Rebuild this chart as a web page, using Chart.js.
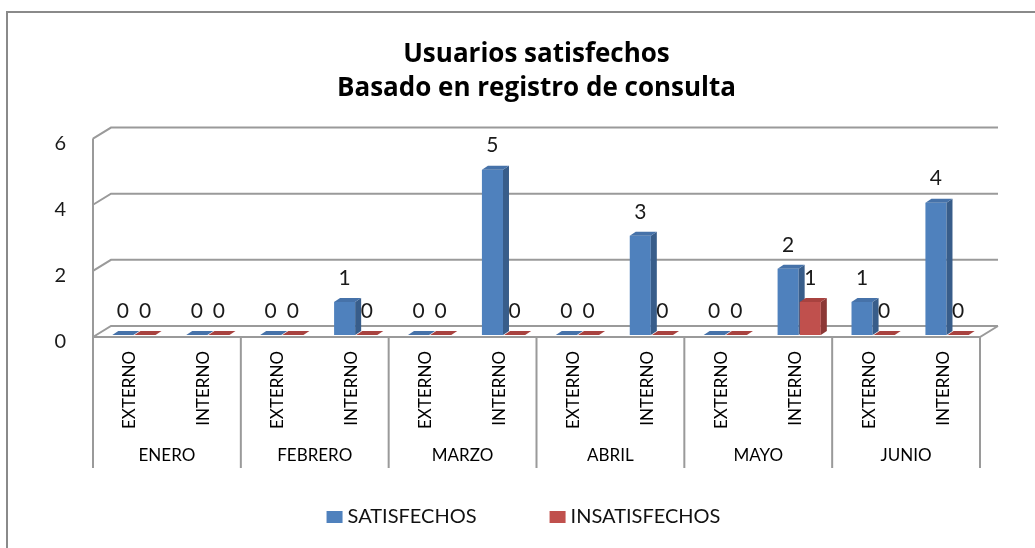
<!DOCTYPE html>
<html>
<head>
<meta charset="utf-8">
<script src="https://cdn.jsdelivr.net/npm/chart.js@4.4.1/dist/chart.umd.min.js"></script>
<style>
    html, body { margin: 0; padding: 0; background: #fff; }
    #wrap { width: 1035px; height: 548px; }
</style>
</head>
<body>
<div id="wrap"><canvas id="myChart"></canvas></div>
<script>
// data
const months = ['ENERO', 'FEBRERO', 'MARZO', 'ABRIL', 'MAYO', 'JUNIO'];
const origins = ['EXTERNO', 'INTERNO'];
const satisfechos = [0, 0, 0, 1, 0, 5, 0, 3, 0, 2, 1, 4];
const insatisfechos = [0, 0, 0, 0, 0, 0, 0, 0, 0, 1, 0, 0];
const yTicks = [0, 2, 4, 6];

const labels = months.flatMap(() => origins);

// fake 3d look (excel 2007 style)
const wall = { dx: 18, dy: -11 };
const bar3d = { dx: 6, dy: -4, shiftX: 4, shiftY: -2 };
const faces = [
    { side: '#385d8a', top: '#4672a9' },
    { side: '#8c3836', top: '#a8423f' }
];
const lineGray = '#9a9a9a';
const fontName = 'Lato, "Open Sans", sans-serif';

const threeD = {
    id: 'threeD',
    beforeDraw(chart) {
        const ctx = chart.ctx;
        // outer frame
        ctx.save();
        ctx.strokeStyle = '#8a8a8a';
        ctx.lineWidth = 2;
        ctx.beginPath();
        ctx.moveTo(7, chart.height);
        ctx.lineTo(7, 12);
        ctx.lineTo(chart.width, 12);
        ctx.stroke();
        ctx.restore();
    },
    beforeDatasetsDraw(chart) {
        const ctx = chart.ctx;
        const x = chart.scales.x, y = chart.scales.y, x2 = chart.scales.x2;
        const left = chart.chartArea.left, right = chart.chartArea.right;
        ctx.save();
        ctx.strokeStyle = lineGray;
        ctx.lineWidth = 2;
        ctx.beginPath();
        yTicks.forEach((v) => {
            const yp = y.getPixelForValue(v);
            ctx.moveTo(left, yp);
            ctx.lineTo(left + wall.dx, yp + wall.dy);
            ctx.lineTo(right + wall.dx, yp + wall.dy);
        });
        // left wall edge
        ctx.moveTo(left, y.getPixelForValue(yTicks[yTicks.length - 1]));
        ctx.lineTo(left, y.getPixelForValue(0));
        // floor front edge
        const y0 = y.getPixelForValue(0);
        ctx.moveTo(left, y0);
        ctx.lineTo(right, y0);
        ctx.lineTo(right + wall.dx, y0 + wall.dy);
        // month separators
        const half = (x.getPixelForValue(1) - x.getPixelForValue(0)) / 2;
        for (let k = 0; k <= months.length; k++) {
            const xp = x.getPixelForValue(k * origins.length) - half;
            ctx.moveTo(xp, y0);
            ctx.lineTo(xp, x2.bottom);
        }
        ctx.stroke();
        ctx.restore();
    },
    // bars are drawn below, in dataset order, so the red ones sit in front
    beforeDatasetDraw() {
        return false;
    },
    afterDatasetsDraw(chart) {
        const ctx = chart.ctx;
        ctx.save();
        ctx.translate(bar3d.shiftX, bar3d.shiftY);
        chart.data.datasets.forEach((ds, i) => {
            const f = faces[i];
            chart.getDatasetMeta(i).data.forEach((b) => {
                b.draw(ctx);
                const p = b.getProps(['x', 'y', 'base', 'width']);
                const l = p.x - p.width / 2, r = p.x + p.width / 2;
                const top = Math.min(p.y, p.base), bot = Math.max(p.y, p.base);
                ctx.fillStyle = f.side;
                ctx.beginPath();
                ctx.moveTo(r, top);
                ctx.lineTo(r + bar3d.dx, top + bar3d.dy);
                ctx.lineTo(r + bar3d.dx, bot + bar3d.dy);
                ctx.lineTo(r, bot);
                ctx.closePath();
                ctx.fill();
                ctx.fillStyle = f.top;
                ctx.beginPath();
                ctx.moveTo(l, top);
                ctx.lineTo(l + bar3d.dx, top + bar3d.dy);
                ctx.lineTo(r + bar3d.dx, top + bar3d.dy);
                ctx.lineTo(r, top);
                ctx.closePath();
                ctx.fill();
            });
        });
        // value labels
        ctx.fillStyle = '#1a1a1a';
        ctx.font = '21px ' + fontName;
        ctx.textAlign = 'center';
        ctx.textBaseline = 'middle';
        chart.data.datasets.forEach((ds, i) => {
            chart.getDatasetMeta(i).data.forEach((b, j) => {
                const p = b.getProps(['x', 'y', 'base']);
                ctx.fillText(String(ds.data[j]), p.x, Math.min(p.y, p.base) - 24);
            });
        });
        ctx.restore();
    },
    afterDraw(chart) {
        // legend at the bottom
        const ctx = chart.ctx;
        ctx.save();
        ctx.font = '20px ' + fontName;
        ctx.textBaseline = 'middle';
        ctx.textAlign = 'left';
        const box = 16, gap = 5, spacing = 73;
        const items = chart.data.datasets.map((ds) => ({ text: ds.label, color: ds.backgroundColor }));
        let total = 0;
        items.forEach((it, i) => {
            total += box + gap + ctx.measureText(it.text).width + (i > 0 ? spacing : 0);
        });
        let cx = chart.width / 2 + 6 - total / 2;
        const cy = 517;
        items.forEach((it) => {
            ctx.fillStyle = it.color;
            ctx.fillRect(cx, cy - 6, box, 12);
            cx += box + gap;
            ctx.fillStyle = '#111';
            ctx.fillText(it.text, cx, cy);
            cx += ctx.measureText(it.text).width + spacing;
        });
        ctx.restore();
    }
};

const ctx = document.getElementById('myChart').getContext('2d');
const myChart = new Chart(ctx, {
    type: 'bar',
    data: {
        labels: labels,
        datasets: [{
            label: 'SATISFECHOS',
            data: satisfechos,
            backgroundColor: '#4f81bd'
        }, {
            label: 'INSATISFECHOS',
            data: insatisfechos,
            backgroundColor: '#c0504d'
        }]
    },
    options: {
        responsive: true,
        maintainAspectRatio: false,
        animation: false,
        categoryPercentage: 0.6,
        barPercentage: 0.95,
        layout: { padding: { top: 0, left: 20, right: 55, bottom: 80 } },
        plugins: {
            legend: { display: false },
            tooltip: { enabled: false },
            title: {
                display: true,
                fullSize: false,
                text: ['Usuarios satisfechos', 'Basado en registro de consulta'],
                color: '#000',
                font: { family: '"Open Sans", Lato, sans-serif', size: 26, weight: 'bold', lineHeight: 1.3 },
                padding: { top: 38, bottom: 33 }
            }
        },
        scales: {
            x: {
                grid: { display: false, drawTicks: false },
                border: { display: false },
                afterFit: (s) => { s.height = 92; },
                ticks: {
                    autoSkip: false,
                    minRotation: 90,
                    maxRotation: 90,
                    padding: 14,
                    color: '#000',
                    font: { family: fontName, size: 17 }
                }
            },
            x2: {
                type: 'category',
                labels: months,
                position: 'bottom',
                offset: true,
                grid: { display: false, drawTicks: false },
                border: { display: false },
                afterFit: (s) => { s.height = 39; },
                ticks: {
                    padding: 16,
                    color: '#000',
                    font: { family: fontName, size: 17 }
                }
            },
            y: {
                min: 0,
                max: 6,
                grid: { display: false, drawTicks: false },
                border: { display: false },
                afterBuildTicks: (s) => { s.ticks = yTicks.map((v) => ({ value: v })); },
                afterFit: (s) => { s.width = 73; },
                ticks: {
                    padding: 27,
                    labelOffset: 5,
                    color: '#1a1a1a',
                    font: { family: fontName, size: 20 }
                }
            }
        }
    },
    plugins: [threeD]
});
</script>
</body>
</html>
